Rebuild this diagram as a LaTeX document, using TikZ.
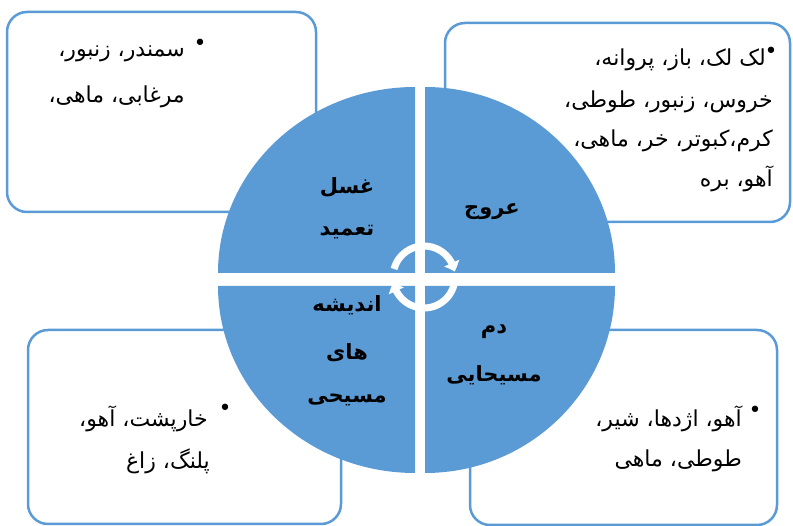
\documentclass[tikz,border=0pt]{standalone}
\usepackage{fontspec}
\setmainfont{DejaVu Sans}
\newfontfamily\fa[Script=Arabic]{DejaVu Sans}
\TeXXeTstate=1
\usetikzlibrary{arrows.meta,bending}
\definecolor{qblue}{HTML}{5B9BD5}
\begin{document}
\begin{tikzpicture}[x=1pt,y=-1pt,
  box/.style={draw=qblue, line width=2.5pt, fill=white, rounded corners=20pt},
  quad/.style={fill=qblue},
  body/.style={font=\fa\fontsize{22}{24}\selectfont, inner sep=0pt, anchor=east},
  bul/.style={font=\fa\fontsize{22}{24}\selectfont, inner sep=0pt},
  lab/.style={font=\fa\bfseries\fontsize{21}{24}\selectfont, inner sep=0pt},
  cyc/.style={draw=white, line width=7pt, -{Triangle[width=16pt,length=9pt,bend]}}
]
\useasboundingbox (0,0) rectangle (793,526);
% boxes
\draw[box] (7,12) rectangle (316,212);
\draw[box] (445,23) rectangle (790,222);
\draw[box] (28,330) rectangle (341,524);
\draw[box] (470,330) rectangle (777,525);
% quadrants
\fill[quad] (415,273) -- (218,273) arc[start angle=180, end angle=270, x radius=197, y radius=186] -- cycle;
\fill[quad] (425,273) -- (425,87) arc[start angle=270, end angle=360, x radius=190, y radius=186] -- cycle;
\fill[quad] (415,286) -- (415,473) arc[start angle=90, end angle=180, x radius=197, y radius=187] -- cycle;
\fill[quad] (425,286) -- (615,286) arc[start angle=0, end angle=90, x radius=190, y radius=187] -- cycle;
% box texts
\node[bul] (tlb) at (200,45) {•};
\node[body] (tl1) at (185,54) {\beginR سمندر، زنبور،\endR};
\node[body] (tl2) at (185,97) {\beginR مرغابی، ماهی،\endR};
\node[bul] (trb) at (771,53) {•};
\node[body] (tr1) at (766,60) {\beginR لک لک، باز، پروانه،\endR};
\node[body] (tr2) at (773,102) {\beginR خروس، زنبور، طوطی،\endR};
\node[body] (tr3) at (773,141) {\beginR کرم،کبوتر، خر، ماهی،\endR};
\node[body] (tr4) at (773,179) {\beginR آهو، بره\endR};
\node[bul] (blb) at (225,410) {•};
\node[body] (bl1) at (208,419) {\beginR خارپشت، آهو،\endR};
\node[body] (bl2) at (210,461) {\beginR پلنگ، زاغ\endR};
\node[bul] (brb) at (755,412) {•};
\node[body] (br1) at (742,419) {\beginR آهو، اژدها، شیر،\endR};
\node[body] (br2) at (742,461) {\beginR طوطی، ماهی\endR};
% circle labels
\node[lab] (q1a) at (347,187) {\beginR غسل\endR};
\node[lab] (q1b) at (347,232) {\beginR تعمید\endR};
\node[lab] (q2) at (492,212) {\beginR عروج\endR};
\node[lab] (q3a) at (347,305) {\beginR اندیشه\endR};
\node[lab] (q3b) at (347,353) {\beginR های\endR};
\node[lab] (q3c) at (347,400) {\beginR مسیحی\endR};
\node[lab] (q4a) at (494,332) {\beginR دم\endR};
\node[lab] (q4b) at (494,375) {\beginR مسیحایی\endR};
% cycle arrows
\coordinate (cc) at (424,277);
\draw[cyc] ([shift={(195:31)}]cc) arc[start angle=195, end angle=350, radius=31];
\draw[cyc] ([shift={(15:31)}]cc) arc[start angle=15, end angle=170, radius=31];
\end{tikzpicture}
\end{document}
